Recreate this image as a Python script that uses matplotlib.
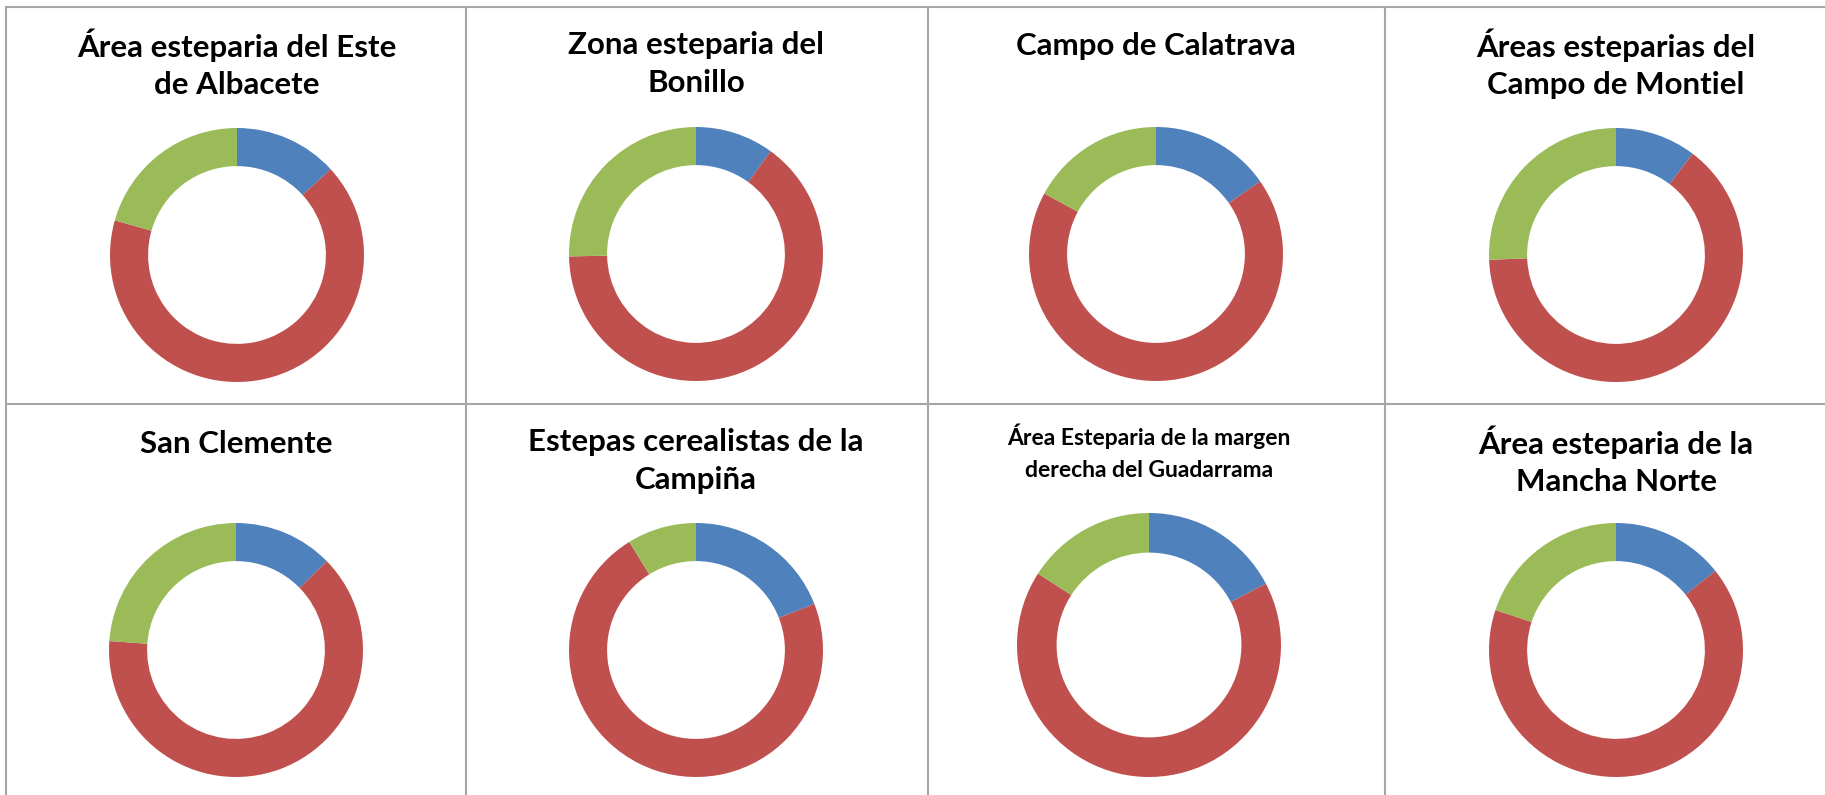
import matplotlib.pyplot as plt
from matplotlib.lines import Line2D

# datos (porcentaje de cada sector: azul, rojo, verde)
titulos = ["Área esteparia del Este\nde Albacete",
           "Zona esteparia del\nBonillo",
           "Campo de Calatrava",
           "Áreas esteparias del\nCampo de Montiel",
           "San Clemente",
           "Estepas cerealistas de la\nCampiña",
           "Área Esteparia de la margen\nderecha del Guadarrama",
           "Área esteparia de la\nMancha Norte"]
azul = [13.2, 10.0, 15.3, 10.3, 12.7, 19.1, 17.3, 14.3]
rojo = [66.2, 64.7, 67.6, 64.1, 63.5, 72.1, 66.8, 65.8]
verde = [20.6, 25.3, 17.1, 25.6, 23.9, 8.8, 15.9, 19.9]
colores = ['#4F81BD', '#C0504D', '#9BBB59']

W, H = 1825, 795
fig = plt.figure(figsize=(W / 100, H / 100), dpi=100)

# rejilla de la tabla
gris = '#A6A6A6'
xs = [6, 466, 928, 1385]
for x in xs:
    fig.add_artist(Line2D([x / W, x / W], [0, 1 - 7 / H], color=gris, lw=1.5))
for y in [7, 404]:
    fig.add_artist(Line2D([6 / W, 1], [1 - y / H, 1 - y / H], color=gris, lw=1.5))

cx = [237, 696, 1156, 1616, 236, 696, 1149, 1616]
cy = [255, 254, 254, 255, 650, 650, 645, 650]
radio = [127, 127, 127, 127, 127, 127, 132, 127]
ty = [64, 64, 46, 64, 444, 461, 452, 461]
tam = [22.5, 22.5, 22.5, 22.5, 22.5, 22.5, 16.5, 22.5]
interlineado = [1.4, 1.4, 1.4, 1.4, 1.4, 1.4, 1.65, 1.4]

for i in range(8):
    r = radio[i]
    ax = fig.add_axes([(cx[i] - r) / W, 1 - (cy[i] + r) / H, 2 * r / W, 2 * r / H])
    ax.pie([azul[i], rojo[i], verde[i]], colors=colores, startangle=90,
           counterclock=False, radius=1, wedgeprops=dict(width=0.3, linewidth=0))
    ax.set_xlim(-1, 1)
    ax.set_ylim(-1, 1)
    ax.axis('off')
    fig.text(cx[i] / W, 1 - ty[i] / H, titulos[i], ha='center', va='center',
             fontsize=tam[i], fontweight='bold', family='Lato',
             linespacing=interlineado[i])

plt.savefig("out.png", dpi=100)
